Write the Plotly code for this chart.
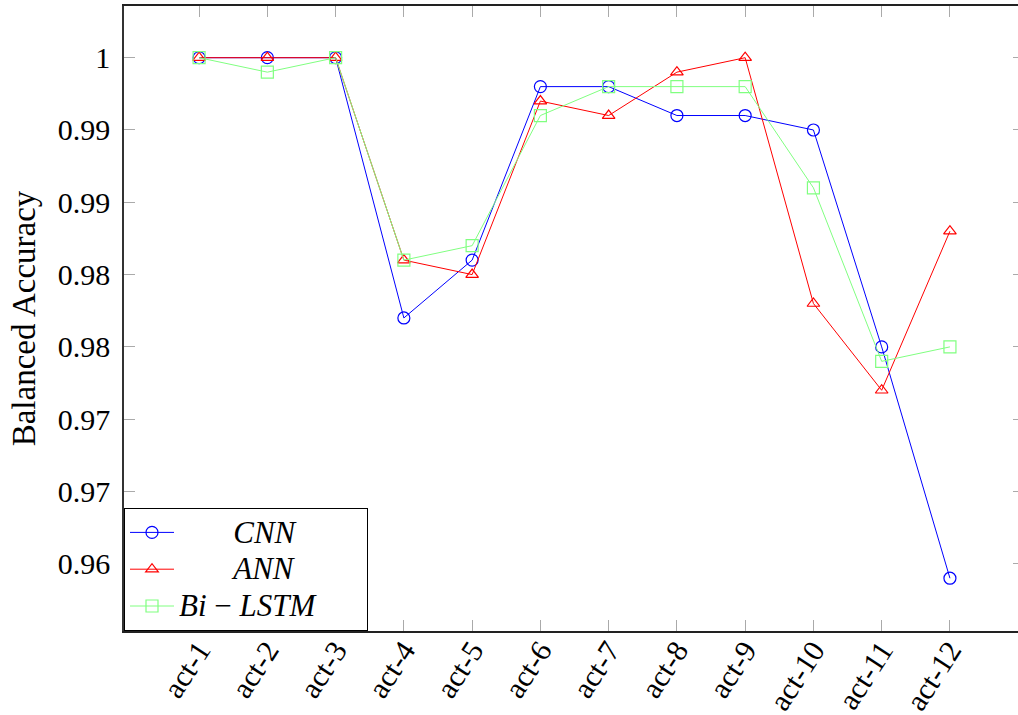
import plotly.graph_objects as go

categories = ["act-1", "act-2", "act-3", "act-4", "act-5", "act-6",
              "act-7", "act-8", "act-9", "act-10", "act-11", "act-12"]
cnn = [1.000, 1.000, 1.000, 0.982, 0.986, 0.998, 0.998, 0.996, 0.996, 0.995, 0.980, 0.964]
ann = [1.000, 1.000, 1.000, 0.986, 0.985, 0.997, 0.996, 0.999, 1.000, 0.983, 0.977, 0.988]
bilstm = [1.000, 0.999, 1.000, 0.986, 0.987, 0.996, 0.998, 0.998, 0.998, 0.991, 0.979, 0.980]

ytick_vals = [0.965, 0.970, 0.975, 0.980, 0.985, 0.990, 0.995, 1.000]
ytick_text = ["0.96", "0.97", "0.97", "0.98", "0.98", "0.99", "0.99", "1"]

FONT = "'Liberation Serif', 'DejaVu Serif', serif"
NB = "&nbsp;"


def leg(txt, lead, trail):
    return "<span style='font-size:31px'>" + NB * lead + txt + NB * trail + "</span>"


fig = go.Figure()
fig.add_trace(go.Scatter(
    x=categories, y=cnn, mode="lines+markers",
    name=leg("<i>CNN</i>", 7, 0),
    line=dict(color="#0000ff", width=1),
    marker=dict(symbol="circle-open", size=12, color="#0000ff", line=dict(width=1.2)),
))
fig.add_trace(go.Scatter(
    x=categories, y=ann, mode="lines+markers",
    name=leg("<i>ANN</i>", 7, 0),
    line=dict(color="#ff0000", width=1),
    marker=dict(symbol="triangle-up-open", size=11, color="#ff0000", line=dict(width=1.2)),
))
fig.add_trace(go.Scatter(
    x=categories, y=bilstm, mode="lines+markers",
    name=leg("<i>Bi</i> − <i>LSTM</i>", 0, 6),
    line=dict(color="#80ff80", width=1),
    marker=dict(symbol="square-open", size=12, color="#80ff80", line=dict(width=1.2)),
))
# helper trace so the right-hand tick axis is rendered
fig.add_trace(go.Scatter(
    x=categories, y=cnn, yaxis="y2", mode="lines", opacity=0,
    showlegend=False, hoverinfo="skip",
))

yr = [0.96035, 1.003575]
fig.update_layout(
    width=1018, height=715,
    margin=dict(l=124, r=0, t=6, b=84, autoexpand=False),
    paper_bgcolor="white", plot_bgcolor="white",
    font=dict(family=FONT, size=30, color="black"),
    showlegend=True,
    legend=dict(
        x=0, y=0, xanchor="left", yanchor="bottom",
        bordercolor="black", borderwidth=1, bgcolor="white",
        font=dict(family=FONT, size=26, color="black"),
        itemwidth=44, tracegroupgap=0,
    ),
    xaxis=dict(
        type="category", range=[-1.1, 11.997], automargin=False,
        showgrid=False, zeroline=False,
        showline=True, linecolor="#222222", linewidth=1.5, mirror="ticks",
        ticks="inside", ticklen=11, tickcolor="#aaaaaa", tickwidth=1,
        tickangle=-57, ticklabelstandoff=-12,
        tickfont=dict(family=FONT, size=30),
    ),
    yaxis=dict(
        range=yr, tickvals=ytick_vals, ticktext=ytick_text, automargin=False,
        showgrid=False, zeroline=False,
        showline=True, linecolor="#333333", linewidth=1.5,
        ticks="inside", ticklen=11, tickcolor="#aaaaaa", tickwidth=1,
        ticklabelstandoff=6,
        tickfont=dict(family=FONT, size=30),
        title=dict(text="Balanced Accuracy", font=dict(family=FONT, size=33), standoff=12),
    ),
    yaxis2=dict(
        overlaying="y", side="right", range=yr, tickvals=ytick_vals,
        showticklabels=False, showgrid=False, zeroline=False, showline=False,
        ticks="inside", ticklen=5, tickcolor="#aaaaaa", tickwidth=1,
    ),
)

fig.write_html("out.html")
